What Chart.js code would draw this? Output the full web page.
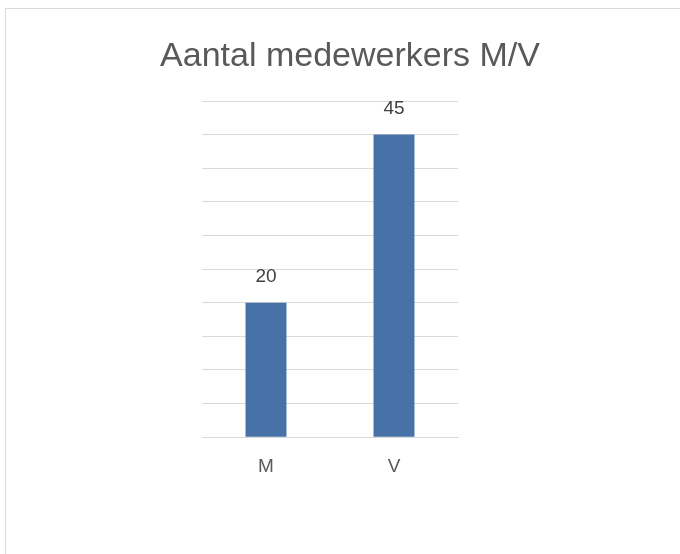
<!DOCTYPE html>
<html>
<head>
<meta charset="utf-8">
<script src="https://cdn.jsdelivr.net/npm/chart.js@4"></script>
<style>
  body { margin: 0; background: #fff; overflow: hidden; }
  #frame { position: absolute; left: 5px; top: 8px; width: 700px; height: 600px; border: 1px solid #d9d9d9; }
  #wrap { position: absolute; left: 0; top: 0; width: 680px; height: 554px; }
</style>
</head>
<body>
<div id="frame"></div>
<div id="wrap"><canvas id="grafico" width="680" height="554"></canvas></div>
<script>
const categorias = ['M', 'V'];
const aantallen = [20, 45];
const titel = 'Aantal medewerkers M/V';

// titel en labels boven de staven
const tekstLaag = {
    id: 'tekstLaag',
    afterDatasetsDraw(chart) {
        const ctx = chart.ctx;
        const meta = chart.getDatasetMeta(0);
        ctx.save();
        ctx.textAlign = 'center';
        ctx.textBaseline = 'middle';
        ctx.font = '34px "Liberation Sans", Arial, sans-serif';
        ctx.fillStyle = '#595959';
        ctx.fillText(titel, 350, 57);
        ctx.font = '19px "Liberation Sans", Arial, sans-serif';
        ctx.fillStyle = '#404040';
        meta.data.forEach((bar, i) => {
            ctx.fillText(String(aantallen[i]), bar.x, bar.y - 26);
        });
        ctx.restore();
    }
};

document.addEventListener('DOMContentLoaded', () => {
    const ctx = document.getElementById('grafico').getContext('2d');
    new Chart(ctx, {
        type: 'bar',
        data: {
            labels: categorias,
            datasets: [{
                data: aantallen,
                backgroundColor: '#4672a8',
                borderWidth: 0,
                barPercentage: 0.32,
                categoryPercentage: 1
            }]
        },
        options: {
            responsive: false,
            animation: false,
            layout: { padding: { left: 202, right: 222, top: 101, bottom: 57 } },
            plugins: {
                legend: { display: false },
                tooltip: { enabled: false },
                title: { display: false }
            },
            scales: {
                x: {
                    grid: { display: false, drawTicks: false },
                    border: { display: true, color: '#d9d9d9' },
                    ticks: {
                        color: '#595959',
                        padding: 18.5,
                        font: { family: '"Liberation Sans", Arial, sans-serif', size: 19, lineHeight: 1.2 }
                    }
                },
                y: {
                    min: 0,
                    max: 50,
                    ticks: { display: false, stepSize: 5 },
                    grid: { color: '#d9d9d9', drawTicks: false },
                    border: { display: false },
                    afterFit(scale) { scale.width = 0; }
                }
            }
        },
        plugins: [tekstLaag]
    });
});
</script>
</body>
</html>
